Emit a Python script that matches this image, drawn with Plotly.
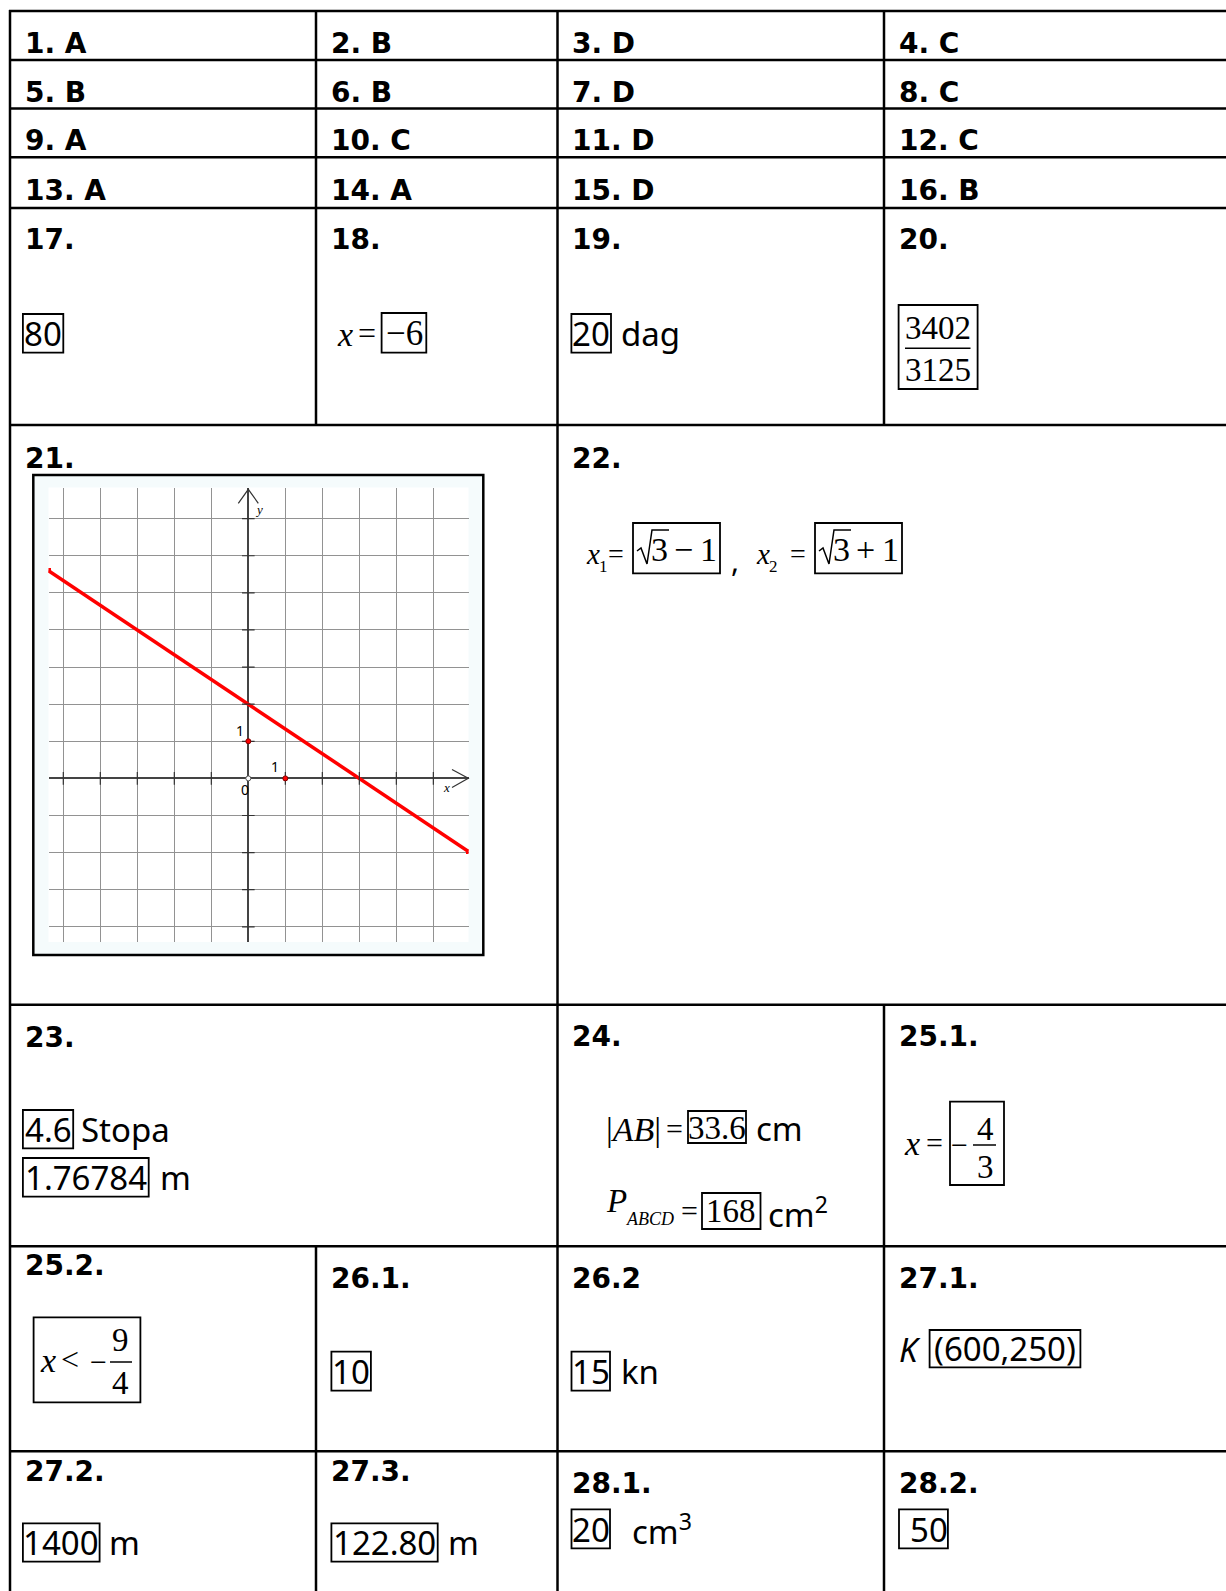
import plotly.graph_objects as go

W, H = 1226, 1591

# answers 1-16 (multiple choice)
mc_answers = ["A", "B", "D", "C", "B", "B", "D", "C",
              "A", "C", "D", "C", "A", "A", "D", "B"]

# open answers
ans17 = "80"
ans18 = "−6"
ans19 = "20"
ans20 = ["3402", "3125"]
ans22 = ["−", "+"]
ans23 = ["4.6", "1.76784"]
ans24 = ["33.6", "168"]
ans25_1 = ["4", "3"]
ans25_2 = ["9", "4"]
ans26_1 = "10"
ans26_2 = "15"
ans27_1 = "(600,250)"
ans27_2 = "1400"
ans27_3 = "122.80"
ans28_1 = "20"
ans28_2 = "50"

# question 21: graph of the line
line_x = [-5.4, 5.95]
line_y = [5.6, -1.97]
unit_x = [0, 1]
unit_y = [1, 0]
tick_x = [-5, -4, -3, -2, -1, 1, 2, 3, 4, 5]
tick_y = [-4, -3, -2, -1, 1, 2, 3, 4, 5, 6, 7]

BOLD = "DejaVu Sans"
SANS = "Noto Sans"
SERIF = "Liberation Serif"

shapes = []
ann = []


def seg(x0, y0, x1, y1, w=2.5, color="black"):
    shapes.append(dict(type="line", xref="x", yref="y", x0=x0, y0=y0, x1=x1, y1=y1,
                       line=dict(color=color, width=w)))


def box(x0, y0, x1, y1, w=1.8):
    shapes.append(dict(type="rect", xref="x", yref="y", x0=x0, y0=y0, x1=x1, y1=y1,
                       line=dict(color="black", width=w), fillcolor="rgba(0,0,0,0)"))


def path(p, w=1.5, color="black"):
    shapes.append(dict(type="path", xref="x", yref="y", path=p, line=dict(color=color, width=w)))


def txt(x, y, s, size=33, family=SANS, anchor="left", weight="normal", style="normal",
        ref=("x", "y"), color="black"):
    ann.append(dict(x=x, y=y, xref=ref[0], yref=ref[1], text=s, showarrow=False,
                    xanchor=anchor, yanchor="middle",
                    font=dict(family=family, size=size, color=color, weight=weight, style=style)))


def label(x, y, s):
    txt(x - 3, y, s, size=28, family=BOLD, weight="bold")


# ---- table grid ----
L, C1, C2, C3 = 10, 316, 557.5, 884
rows = [11, 60, 108.6, 157.3, 208, 425, 1004.7, 1246.3, 1451.3]
for r in rows:
    seg(L - 1, r, W, r)
seg(L, 10, L, H)
seg(C2, 11, C2, H)
seg(C1, 11, C1, 425)
seg(C1, 1246.3, C1, H)
seg(C3, 11, C3, 425)
seg(C3, 1004.7, C3, H)

# ---- 1..16 ----
col_x = [25.7, 332, 572.7, 900]
row_y = [43.5, 92, 140.5, 190.5]
for i, a in enumerate(mc_answers):
    label(col_x[i % 4], row_y[i // 4], f"{i + 1}. {a}")

# ---- 17..20 ----
for k, lab in enumerate(["17.", "18.", "19.", "20."]):
    label(col_x[k], 239.5, lab)

box(22.9, 314, 63.3, 352.7)
txt(43.1, 333.5, ans17, anchor="center")

txt(335, 334, "x", size=34, family=SERIF, style="italic")
txt(367, 333, "=", size=32, family=SERIF, anchor="center")
box(381.6, 313, 426.3, 352.7)
txt(404, 333, ans18, size=35, family=SERIF, anchor="center")

box(571.4, 314, 611, 352.7)
txt(591.2, 333.5, ans19, anchor="center")
txt(619, 333.5, "dag")

box(898.6, 305, 977.6, 389)
txt(938, 327.5, ans20[0], size=33, family=SERIF, anchor="center")
txt(938, 369.5, ans20[1], size=33, family=SERIF, anchor="center")
seg(905, 348.3, 970.5, 348.3, w=1.5)

# ---- 21: graph ----
label(25.7, 458.5, "21.")
shapes.append(dict(type="rect", xref="x", yref="y", x0=33.3, y0=475, x1=483.3, y1=955,
                   line=dict(color="black", width=2.5), fillcolor="#f5fbfc", layer="below"))
path("M 238.3 503.3 L 248.3 489.3 L 258.3 503.3", w=1.2, color="#333333")
path("M 452 769.5 L 468.3 778.3 L 452 787.5", w=1.2, color="#333333")

gx = dict(ref=("x2", "y2"))
txt(-0.22, 1.3, "1", size=14, family=SANS, anchor="center", **gx)
txt(0.72, 0.32, "1", size=14, family=SANS, anchor="center", **gx)
txt(-0.1, -0.3, "0", size=14, family=SANS, anchor="center", **gx)
txt(0.3, 7.25, "y", size=13, family=SERIF, style="italic", anchor="center", **gx)
txt(5.35, -0.25, "x", size=13, family=SERIF, style="italic", anchor="center", **gx)

# ---- 22 ----
label(572.7, 458.5, "22.")
for bx0, xx, sub, sign in [(633, 584, "1", ans22[0]), (815, 754, "2", ans22[1])]:
    txt(xx, 554, "x", size=29, family=SERIF, style="italic")
    txt(xx + 13, 566, sub, size=17, family=SERIF)
    txt(bx0 - 17, 553, "=", size=28, family=SERIF, anchor="center")
    box(bx0, 523, bx0 + 87, 573.3)
    # radical sign with vinculum
    path(f"M {bx0 + 4} 551 L {bx0 + 8} 548 L {bx0 + 14} 564 L {bx0 + 19} 530 L {bx0 + 36} 530", w=1.5)
    txt(bx0 + 26, 549, "3", size=34, family=SERIF, anchor="center")
    txt(bx0 + 50, 549, sign, size=34, family=SERIF, anchor="center")
    txt(bx0 + 75, 549, "1", size=34, family=SERIF, anchor="center")
txt(735, 560, ",", size=30, family=SANS, anchor="center")

# ---- 23..25.1 ----
label(25.7, 1037.5, "23.")
label(572.7, 1036.5, "24.")
label(900, 1036.5, "25.1.")

box(22.9, 1110, 73.2, 1148.3)
txt(48, 1129, ans23[0], anchor="center")
txt(79, 1129, "Stopa")
box(22.9, 1158, 148.7, 1196.7)
txt(85.8, 1177, ans23[1], anchor="center")
txt(158, 1177, "m")

txt(604, 1129, "|<i>AB</i>|", size=34, family=SERIF)
txt(674.5, 1128, "=", size=30, family=SERIF, anchor="center")
box(688, 1111, 746, 1143)
txt(717, 1128, ans24[0], size=33, family=SERIF, anchor="center")
txt(754, 1128, "cm")
txt(604, 1201, "P", size=33, family=SERIF, style="italic")
txt(624, 1219, "ABCD", size=18, family=SERIF, style="italic")
txt(689, 1210, "=", size=30, family=SERIF, anchor="center")
box(702, 1193, 760.5, 1229)
txt(731, 1211, ans24[1], size=33, family=SERIF, anchor="center")
txt(766, 1212, "cm<sup>2</sup>")

txt(902, 1143, "x", size=34, family=SERIF, style="italic")
txt(934.5, 1142, "=", size=30, family=SERIF, anchor="center")
box(950, 1101.7, 1004, 1185)
txt(959.5, 1144, "−", size=30, family=SERIF, anchor="center")
txt(985, 1129, ans25_1[0], size=33, family=SERIF, anchor="center")
txt(985, 1167, ans25_1[1], size=33, family=SERIF, anchor="center")
seg(973, 1145, 996, 1145, w=1.5)

# ---- 25.2 .. 27.1 ----
label(25.7, 1265.5, "25.2.")
label(332, 1278, "26.1.")
label(572.7, 1278, "26.2")
label(900, 1278, "27.1.")

box(33.6, 1317.3, 140.4, 1402.3)
txt(37.5, 1360, "x", size=34, family=SERIF, style="italic")
txt(70, 1359, "&lt;", size=32, family=SERIF, anchor="center")
txt(98, 1361, "−", size=30, family=SERIF, anchor="center")
txt(120.6, 1340, ans25_2[0], size=33, family=SERIF, anchor="center")
txt(120.6, 1383, ans25_2[1], size=33, family=SERIF, anchor="center")
seg(110, 1362, 132, 1362, w=1.5)

box(331.4, 1351.7, 370.9, 1390.7)
txt(351.2, 1371, ans26_1, anchor="center")

box(571.5, 1351.7, 610, 1390.7)
txt(590.8, 1371, ans26_2, anchor="center")
txt(619, 1371, "kn")

txt(897, 1349, "K", style="italic")
box(929.6, 1330, 1080.4, 1367.3)
txt(1005, 1348.6, ans27_1, anchor="center")

# ---- 27.2 .. 28.2 ----
label(25.7, 1471, "27.2.")
label(332, 1471, "27.3.")
label(572.7, 1483, "28.1.")
label(900, 1483, "28.2.")

box(22.9, 1523.3, 99.6, 1561.7)
txt(61.3, 1542.5, ans27_2, anchor="center")
txt(107, 1542.5, "m")
box(331.4, 1523.3, 437.7, 1561.7)
txt(384.5, 1542.5, ans27_3, anchor="center")
txt(446, 1542.5, "m")

box(571.5, 1509.3, 610, 1548.3)
txt(590.8, 1529, ans28_1, anchor="center")
txt(630, 1529, "cm<sup>3</sup>")
box(899, 1509.3, 947.9, 1548.3)
txt(928.5, 1529, ans28_2, anchor="center")

# ---- traces (graph 21) ----
fig = go.Figure()
fig.add_trace(go.Scatter(x=line_x, y=line_y, mode="lines+markers", xaxis="x2", yaxis="y2",
                         line=dict(color="#ff0000", width=3.5),
                         marker=dict(symbol="square", size=5, color="#ff0000")))
fig.add_trace(go.Scatter(x=tick_x, y=[0] * len(tick_x), mode="markers", xaxis="x2", yaxis="y2",
                         marker=dict(symbol="line-ns", size=9, line=dict(color="#333333", width=1.2))))
fig.add_trace(go.Scatter(x=[0] * len(tick_y), y=tick_y, mode="markers", xaxis="x2", yaxis="y2",
                         marker=dict(symbol="line-ew", size=9, line=dict(color="#333333", width=1.2))))
fig.add_trace(go.Scatter(x=unit_x, y=unit_y, mode="markers", xaxis="x2", yaxis="y2",
                         marker=dict(size=5, color="#ff0000", line=dict(color="#800000", width=1))))
fig.add_trace(go.Scatter(x=[0], y=[0], mode="markers", xaxis="x2", yaxis="y2",
                         marker=dict(size=5, color="white", line=dict(color="#555555", width=1))))

fig.update_layout(
    width=W, height=H, margin=dict(l=0, r=0, t=0, b=0),
    paper_bgcolor="white", plot_bgcolor="white", showlegend=False,
    xaxis=dict(range=[0, W], domain=[0, 1], visible=False),
    yaxis=dict(range=[H, 0], domain=[0, 1], visible=False),
    xaxis2=dict(domain=[48.5 / W, 468.5 / W], range=line_x, anchor="y2",
                showgrid=True, tick0=0, dtick=1, gridcolor="#929292", gridwidth=1,
                zeroline=True, zerolinecolor="#444444", zerolinewidth=1.5,
                showticklabels=False, ticks="", showline=False),
    yaxis2=dict(domain=[1 - 942 / H, 1 - 487.5 / H], range=[-4.41, 7.84], anchor="x2",
                showgrid=True, tick0=0, dtick=1, gridcolor="#929292", gridwidth=1,
                zeroline=True, zerolinecolor="#444444", zerolinewidth=1.5,
                showticklabels=False, ticks="", showline=False),
    shapes=shapes, annotations=ann,
)

# page body has a default 8px margin; remove it so the figure sits at the top-left corner
fig.write_html("out.html", config={"displayModeBar": False},
               post_script="document.body.style.margin='0';")
